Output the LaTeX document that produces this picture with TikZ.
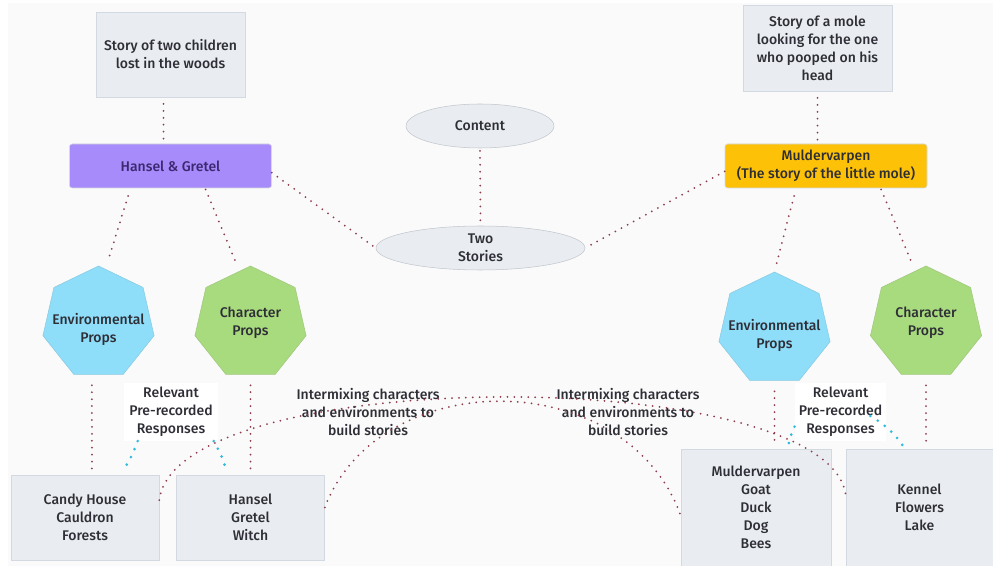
\documentclass[tikz,border=0pt]{standalone}
\usepackage{fontspec}
\setmainfont{Fira Sans}[UprightFont={* Medium}]
\usepackage{tikz}
\usetikzlibrary{shapes.geometric,positioning}
\definecolor{boxgray}{HTML}{E9EDF1}
\definecolor{boxline}{HTML}{D3D9E0}
\definecolor{hgpurple}{HTML}{A78BFA}
\definecolor{hgtext}{HTML}{3B2870}
\definecolor{molegold}{HTML}{FDC108}
\definecolor{envblue}{HTML}{8EDDF9}
\definecolor{chargreen}{HTML}{A8DA7E}
\definecolor{linkred}{HTML}{8E3D4C}
\definecolor{cuecyan}{HTML}{30BBDD}
\definecolor{inkgray}{HTML}{2E2E36}
\tikzset{
	storybox/.style={% plain grey boxes with the stories and props
		draw=boxline, fill=boxgray,
		rectangle,
		minimum width=111.75pt,
		minimum height=63.75pt,
		inner sep=2pt,
		align=center,
		text=inkgray
	},
	titlebox/.style={
		draw=boxline, rectangle, rounded corners=2pt,
		minimum width=151.5pt,
		minimum height=33pt,
		align=center
	},
	oval/.style={
		draw=boxline!80!gray, fill=boxgray,
		ellipse, inner sep=0pt,
		minimum height=33pt,
		align=center,
		text=inkgray
	},
	prop/.style={% text goes in a label, so the size stays fixed
		draw=#1!80!gray, fill=#1,
		regular polygon, regular polygon sides=7,
		minimum size=85.5pt, inner sep=0pt
	},
	note/.style={
		align=center, text=inkgray, inner sep=3pt
	},
	link/.style={
		draw=linkred, line width=1.5pt,
		dash pattern=on 0pt off 5.2pt, line cap=round
	},
	cue/.style={
		draw=cuecyan, line width=2.2pt,
		dash pattern=on 0pt off 6.5pt, line cap=round
	}
}

\begin{document}
\begin{tikzpicture}[x=0.75pt,y=-0.75pt,
	every node/.append style={font=\fontsize{10.5}{13.5}\selectfont}]
	\useasboundingbox (0,0) rectangle (993,566);
	\fill[white] (0,0) rectangle (993,566);
	\fill[black!2] (8,3) rectangle (993,566);

	% The two stories
	\node[storybox] (s1) at (170.5,54.5) {Story of two children\\lost in the woods};
	\node[storybox, minimum height=64.5pt] (s2) at (817.5,48) {Story of a mole\\looking for the one\\who pooped on his\\head};
	\node[titlebox, fill=hgpurple, text=hgtext] (hg) at (170.5,166) {Hansel \& Gretel};
	\node[titlebox, fill=molegold, text=inkgray] (mv) at (826,166) {Muldervarpen\\(The story of the little mole)};

	\node[oval, minimum width=111pt] (content) at (480,126) {Content};
	\node[oval, minimum width=156.75pt] (two) at (480.5,248) {Two\\Stories};

	% Props
	\node[prop=envblue, label={[note, yshift=-5pt]center:Environmental\\Props}] (env1) at (98.5,323) {};
	\node[prop=chargreen, label={[note]center:Character\\Props}] (char1) at (250.5,323) {};
	\node[prop=envblue, label={[note, yshift=-5pt]center:Environmental\\Props}] (env2) at (774.5,329) {};
	\node[prop=chargreen, label={[note]center:Character\\Props}] (char2) at (926,323) {};

	\node[storybox, minimum width=111pt] (cb) at (85,517.5) {Candy House\\Cauldron\\Forests};
	\node[storybox, minimum width=111pt] (hb) at (250.5,517.5) {Hansel\\Gretel\\Witch};
	\node[storybox, minimum width=112.5pt, minimum height=87.75pt] (mb) at (756,507.5) {Muldervarpen\\Goat\\Duck\\Dog\\Bees};
	\node[storybox, minimum width=110.25pt, minimum height=87.75pt] (kb) at (919.5,507.5) {Kennel\\Flowers\\Lake};

	\node[note, fill=white, minimum width=71pt, minimum height=43pt] (rel1) at (171,412) {Relevant\\Pre-recorded\\Responses};
	\node[note, fill=white, minimum width=68pt, minimum height=43pt] (rel2) at (840.5,412) {Relevant\\Pre-recorded\\Responses};
	\node[note] (mix1) at (368,412) {Intermixing characters\\and environments to\\build stories};
	\node[note] (mix2) at (628,412) {Intermixing characters\\and environments to\\build stories};

	% Tree links
	\draw[link, shorten <=5pt, shorten >=3pt] ([xshift=-5.25pt]s1.south) -- ([xshift=-5.25pt]hg.north);
	\draw[link, shorten <=5pt, shorten >=3pt] (s2.south) -- (s2.south |- mv.north);
	\draw[link, shorten <=2pt, shorten >=2pt] (content.south) -- (two.north);
	\draw[link, shorten >=2pt] ([yshift=-5pt]hg.east) -- (two.west);
	\draw[link, shorten >=2pt] ([yshift=-4pt]mv.west) -- (two.east);
	\draw[link, shorten <=6pt, shorten >=3pt] ([xshift=-30pt]hg.south) -- ([xshift=6pt]env1.north);
	\draw[link, shorten <=1pt, shorten >=1pt] ([xshift=26pt]hg.south) -- ([xshift=-10pt]char1.north);
	\draw[link, shorten <=6pt, shorten >=6pt] ([xshift=-22.5pt]mv.south) -- (env2.north);
	\draw[link, shorten <=1pt, shorten >=1pt] ([xshift=41pt]mv.south) -- ([xshift=-9.75pt]char2.north);
	\draw[link, shorten <=8pt, shorten >=2pt] ([xshift=-5pt]env1.south) -- ([xshift=5.25pt]cb.north);
	\draw[link, shorten <=8pt, shorten >=2pt] (char1.south) -- (char1.south |- hb.north);
	\draw[link, shorten <=8pt, shorten >=2pt] (env2.south) -- (env2.south |- mb.north);
	\draw[link, shorten <=8pt, shorten >=2pt] (char2.south) -- (char2.south |- kb.north);

	% Cross links between the stories
	\draw[link] ([yshift=13pt]cb.east) .. controls +(16,-137) and +(-15,-132) .. ([yshift=9pt]kb.west);
	\draw[link] ([yshift=7.5pt]hb.east) .. controls +(55,-143) and +(-55,-151) .. ([yshift=-6pt]mb.west);

	% Responses
	\draw[cue, shorten >=4pt] ([xshift=-25pt]rel1.south) to[bend left=8] ([xshift=26pt]cb.north);
	\draw[cue, shorten >=4pt] ([xshift=32pt]rel1.south) to[bend left=8] ([xshift=-17.5pt]hb.north);
	\draw[cue, shorten >=3pt] ([yshift=-11pt]rel2.west) to[bend right=8] ([xshift=24pt]mb.north);
	\draw[cue, shorten >=2pt] ([xshift=-12pt,yshift=-3pt]rel2.east) to[bend left=12] ([xshift=-10.9pt]kb.north);
\end{tikzpicture}
\end{document}
